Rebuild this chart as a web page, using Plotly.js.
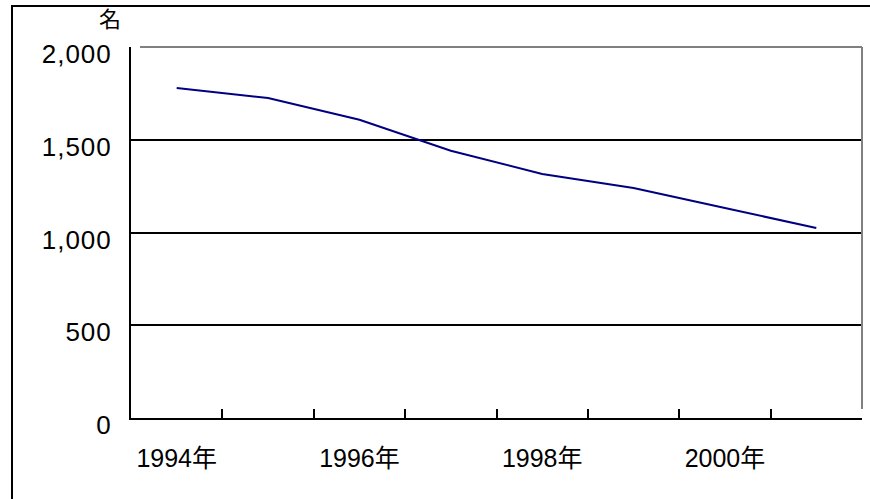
<!DOCTYPE html>
<html>
<head>
<meta charset="utf-8">
<script src="https://cdn.plot.ly/plotly-3.0.1.min.js"></script>
<style>
  html, body { margin: 0; padding: 0; background: #fff; }
  #wrap { position: relative; width: 870px; height: 499px; overflow: hidden; }
  #chart { width: 870px; height: 499px; }
  #frame { position: absolute; left: 11px; top: 5px; width: 900px; height: 520px;
           border-left: 2px solid #000; border-top: 2px solid #000; pointer-events: none; }
  .ytick text { letter-spacing: 1px; }
</style>
</head>
<body>
<div id="wrap">
  <div id="chart"></div>
  <div id="frame"></div>
</div>
<script>
// Data
var years = ["1994年", "1995年", "1996年", "1997年", "1998年", "1999年", "2000年", "2001年"];
var values = [1779, 1725, 1608, 1441, 1315, 1240, 1132, 1024];
var xTickText = ["1994年", "", "1996年", "", "1998年", "", "2000年", ""];
var yTickVals = [0, 500, 1000, 1500, 2000];
var unitLabel = "名";

var trace = {
  x: years,
  y: values,
  type: "scatter",
  mode: "lines",
  line: { color: "#000080", width: 2 },
  hoverinfo: "skip"
};

var fontLat = "Liberation Sans, Arial, Noto Sans CJK JP, sans-serif";

var layout = {
  width: 870,
  height: 499,
  margin: { l: 131, r: 8, t: 47, b: 81, pad: 0 },
  paper_bgcolor: "#ffffff",
  plot_bgcolor: "#ffffff",
  showlegend: false,
  font: { family: fontLat, color: "#000", size: 24 },
  xaxis: {
    type: "category",
    categoryorder: "array",
    categoryarray: years,
    range: [-0.5, 7.5],
    tickmode: "array",
    tickvals: years,
    ticktext: xTickText,
    tickson: "boundaries",
    ticks: "inside",
    ticklen: 9,
    tickwidth: 2,
    tickcolor: "#000",
    showline: true,
    linecolor: "#000",
    linewidth: 2,
    showgrid: false,
    zeroline: false,
    ticklabelstandoff: 17,
    tickfont: { family: fontLat, size: 25, color: "#000" },
    fixedrange: true
  },
  yaxis: {
    range: [0, 2000],
    tickmode: "array",
    tickvals: yTickVals,
    tickformat: ",d",
    ticks: "inside",
    ticklen: 9,
    tickwidth: 2,
    tickcolor: "#000",
    showline: true,
    linecolor: "#000",
    linewidth: 2,
    showgrid: true,
    gridcolor: "#000",
    gridwidth: 2,
    zeroline: false,
    ticklabelstandoff: 12,
    ticklabelshift: 7,
    tickfont: { family: fontLat, size: 26, color: "#000" },
    fixedrange: true
  },
  shapes: [
    { type: "line", xref: "paper", yref: "paper", x0: 9 / 731, x1: 1, y0: 1, y1: 1,
      line: { color: "#808080", width: 2 }, layer: "above" },
    { type: "line", xref: "paper", yref: "paper", x0: 1, x1: 1, y0: 9 / 371, y1: 1,
      line: { color: "#808080", width: 2 }, layer: "above" }
  ],
  annotations: [
    { text: unitLabel, xref: "paper", yref: "paper", x: (110 - 131) / 731, y: (418 - 17) / 371,
      xanchor: "center", yanchor: "middle", showarrow: false,
      font: { family: "Noto Sans CJK JP, sans-serif", size: 22, color: "#000" } }
  ]
};

Plotly.newPlot("chart", [trace], layout, { staticPlot: true, displayModeBar: false });
</script>
</body>
</html>
